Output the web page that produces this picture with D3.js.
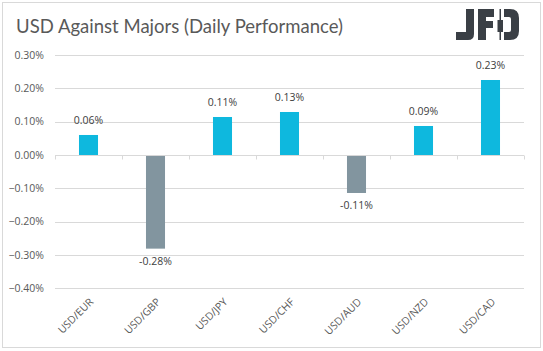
<!DOCTYPE html>
<html>
<head>
<meta charset="utf-8">
<script src="https://cdn.jsdelivr.net/npm/d3@7"></script>
<style>
  html, body { margin: 0; padding: 0; background: #fff; }
  svg { display: block; }
  text { font-family: "Open Sans", "Noto Sans", sans-serif; }
</style>
</head>
<body>
<svg id="chart" width="543" height="351"></svg>
<script>
const categories = ["USD/EUR", "USD/GBP", "USD/JPY", "USD/CHF", "USD/AUD", "USD/NZD", "USD/CAD"];
const values = [0.06, -0.278, 0.114, 0.129, -0.111, 0.087, 0.225];
const valueLabels = ["0.06%", "-0.28%", "0.11%", "0.13%", "-0.11%", "0.09%", "0.23%"];
const yTicks = [0.3, 0.2, 0.1, 0.0, -0.1, -0.2, -0.3, -0.4];
const title = "USD Against Majors (Daily Performance)";

const svg = d3.select("#chart");

// border
svg.append("rect").attr("x", 2.5).attr("y", 2.5).attr("width", 538).attr("height", 345)
  .attr("fill", "#fff").attr("stroke", "#d9d9d9").attr("stroke-width", 1);

// title
svg.append("text").attr("x", 16).attr("y", 33).attr("font-size", 20)
  .style("font-family", "Lato, 'Open Sans', sans-serif")
  .attr("fill", "#595959").attr("textLength", 327).attr("lengthAdjust", "spacingAndGlyphs")
  .text(title);

const x = d3.scaleBand().domain(categories).range([55, 524]).paddingInner(0.716).paddingOuter(0.358);
const y = d3.scaleLinear().domain([-0.4, 0.3]).range([288.3, 55]);

// gridlines
svg.append("g").selectAll("line").data(yTicks).join("line")
  .attr("x1", 55).attr("x2", 524)
  .attr("y1", d => Math.round(y(d)) + 0.5).attr("y2", d => Math.round(y(d)) + 0.5)
  .attr("stroke", "#d9d9d9").attr("stroke-width", 1);

// y labels
svg.append("g").selectAll("text").data(yTicks).join("text")
  .attr("x", 44).attr("y", d => y(d)).attr("dy", "0.35em")
  .attr("text-anchor", "end").attr("font-size", 10.5).attr("fill", "#595959")
  .text(d => d3.format(".2f")(d) + "%");

// bars
const y0 = y(0);
svg.append("g").selectAll("rect").data(values).join("rect")
  .attr("x", (d, i) => x(categories[i]))
  .attr("width", x.bandwidth())
  .attr("y", d => d >= 0 ? y(d) : y0 + 1)
  .attr("height", d => Math.abs(y(d) - y0))
  .attr("fill", d => d >= 0 ? "#0eb8de" : "#82959f");

// zero axis ticks
const step = x.step();
const tickXs = categories.map(c => x(c) - step * x.paddingInner() / 2).concat([524]);
svg.append("g").selectAll("line").data(tickXs).join("line")
  .attr("x1", d => Math.round(d) + 0.5).attr("x2", d => Math.round(d) + 0.5)
  .attr("y1", Math.round(y0) + 0.5).attr("y2", Math.round(y0) + 4.5)
  .attr("stroke", "#d9d9d9").attr("stroke-width", 1);

// value labels
svg.append("g").selectAll("text").data(values).join("text")
  .attr("x", (d, i) => x(categories[i]) + x.bandwidth() / 2)
  .attr("y", d => d >= 0 ? y(d) - 11 : y(d) + 17)
  .attr("text-anchor", "middle").attr("font-size", 10.5).attr("fill", "#404040")
  .text((d, i) => valueLabels[i]);

// category labels
svg.append("g").selectAll("text").data(categories).join("text")
  .attr("transform", c => `translate(${x(c) + x.bandwidth() / 2 + 3},${300}) rotate(-45)`)
  .attr("text-anchor", "end").attr("dy", "0.35em")
  .attr("font-size", 10.5).attr("fill", "#595959")
  .text(c => c);

// JFD logo
const logo = svg.append("g").attr("fill", "#3a3f45");
// J
logo.append("path").attr("d", "M466,9 H474 V34 Q474,40 468,40 H456 V32 H466 Z");
// F
logo.append("path").attr("d", "M478,9 H494 V17 H486 V21 H493 V28 H486 V40 H478 Z");
// candle
logo.append("rect").attr("x", 499.5).attr("y", 9).attr("width", 1.5).attr("height", 31);
logo.append("rect").attr("x", 497.5).attr("y", 20).attr("width", 5.5).attr("height", 12);
// D
logo.append("path").attr("fill-rule", "evenodd")
  .attr("d", "M504,9 H510 Q519,9 519,18 V31 Q519,40 510,40 H504 V32 H509 Q511,32 511,30 V19 Q511,17 509,17 H504 Z");
</script>
</body>
</html>
